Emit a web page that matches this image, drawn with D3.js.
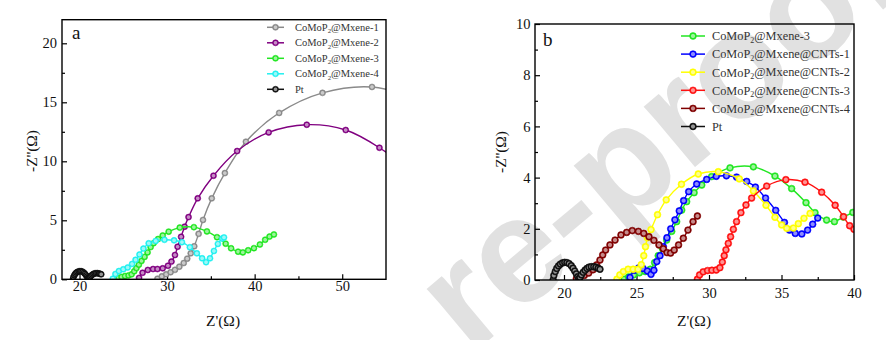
<!DOCTYPE html>
<html><head><meta charset="utf-8">
<script src="https://cdn.jsdelivr.net/npm/d3@7"></script>
<style>body{margin:0;background:#fff}svg{display:block}</style>
</head><body>
<svg id="c" width="886" height="340"></svg>
<script>
// ---------------- data ----------------
const ptData = [[19.25,0],[19.3,0.18],[19.4,0.33],[19.5,0.45],[19.62,0.55],[19.75,0.62],[19.9,0.67],[20.05,0.69],[20.2,0.68],[20.35,0.64],[20.5,0.56],[20.62,0.46],[20.74,0.35],[20.85,0.24],[20.95,0.13],[21.03,0.05],[21.1,0.1],[21.2,0.2],[21.32,0.3],[21.45,0.38],[21.58,0.45],[21.72,0.5],[21.88,0.52],[22.05,0.52],[22.2,0.5],[22.35,0.46],[22.48,0.42]];
const mxene1 = [[28.9,0.05],[29.4,0.25],[29.9,0.42],[30.4,0.6],[30.9,0.8],[31.4,1.07],[31.9,1.38],[32.3,1.75],[32.7,2.2],[33.1,2.8],[33.6,3.85],[34.1,5.03],[35.1,6.86],[36.6,9.0],[39.0,11.66],[42.8,14.1],[47.75,15.8],[53.4,16.3],[58.5,15.3]];
const mxene2 = [[26.8,0.12],[27.2,0.55],[27.8,0.79],[28.4,0.87],[28.9,0.87],[29.5,0.93],[30.1,1.15],[30.5,1.5],[30.9,2.06],[31.2,2.76],[31.6,3.6],[32.0,4.46],[32.45,5.27],[33.5,6.86],[35.3,8.78],[38.0,10.87],[41.6,12.45],[45.95,13.1],[50.4,12.65],[54.25,11.15],[57.5,9.3]];
const mxene3 = [[24.15,0.03],[24.45,0.12],[24.8,0.2],[25.2,0.28],[25.6,0.33],[25.95,0.42],[26.25,0.68],[26.5,0.95],[26.78,1.24],[27.08,1.56],[27.43,1.9],[27.77,2.28],[28.12,2.73],[28.46,3.06],[28.97,3.41],[29.5,3.71],[30.18,4.04],[31.45,4.38],[33.06,4.42],[34.55,4.06],[35.7,3.57],[36.69,3.02],[37.31,2.63],[38.11,2.34],[38.65,2.28],[39.26,2.46],[39.92,2.64],[40.6,2.95],[41.2,3.35],[41.7,3.62],[42.2,3.8]];
const mxene4 = [[23.8,0.05],[24.1,0.45],[24.5,0.7],[25.0,0.85],[25.5,1.0],[26.0,1.3],[26.4,1.65],[26.85,2.1],[27.3,2.6],[27.9,3.05],[28.7,3.25],[29.7,3.35],[30.8,3.3],[31.7,3.15],[32.6,2.72],[33.4,2.2],[34.0,1.78],[34.45,1.45],[34.9,1.78],[35.35,2.4],[35.8,3.0],[36.3,3.45],[36.5,3.55]];
const cnts1 = [[24.55,0.1],[24.85,0.38],[25.15,0.47],[25.45,0.45],[25.75,0.35],[26.0,0.22],[26.2,0.38],[26.4,0.72],[26.62,0.95],[26.85,1.3],[27.1,1.65],[27.36,2.0],[27.65,2.35],[27.95,2.7],[28.25,3.1],[28.6,3.45],[29.15,3.75],[29.84,3.93],[30.5,4.05],[31.2,4.07],[31.9,4.02],[32.6,3.85],[33.2,3.63],[33.9,3.2],[34.6,2.72],[35.2,2.25],[35.55,1.95],[35.95,1.82],[36.4,1.8],[36.8,1.95],[37.15,2.18],[37.5,2.42]];
const cnts2 = [[23.65,0.03],[23.85,0.2],[24.1,0.33],[24.42,0.42],[24.77,0.42],[25.1,0.42],[25.33,0.6],[25.5,0.95],[25.62,1.3],[25.75,1.65],[26.0,1.97],[26.45,2.55],[27.05,3.13],[28.1,3.74],[29.26,4.14],[30.64,4.23],[32.09,3.95],[33.06,3.48],[33.93,2.92],[34.55,2.45],[35.01,2.15],[35.36,2.02],[35.82,2.03],[36.16,2.2],[36.55,2.41],[36.97,2.6]];
const cnts3 = [[29.2,0.03],[29.35,0.2],[29.6,0.32],[29.9,0.37],[30.2,0.38],[30.5,0.39],[30.75,0.48],[30.92,0.7],[31.05,0.95],[31.17,1.18],[31.33,1.43],[31.49,1.69],[31.68,1.98],[31.9,2.28],[32.2,2.63],[32.55,2.93],[32.94,3.2],[33.98,3.67],[35.3,3.92],[36.62,3.82],[37.77,3.43],[38.7,2.92],[39.28,2.47],[39.7,2.12],[40.0,1.98],[40.4,1.7]];
const cnts4 = [[20.85,0.05],[21.1,0.1],[21.4,0.18],[21.7,0.27],[22.0,0.4],[22.25,0.59],[22.48,0.78],[22.67,0.98],[22.87,1.17],[23.17,1.37],[23.52,1.56],[23.93,1.76],[24.32,1.86],[24.71,1.93],[25.13,1.9],[25.5,1.82],[25.86,1.69],[26.2,1.55],[26.55,1.37],[26.85,1.22],[27.1,1.07],[27.35,1.05],[27.6,1.17],[27.9,1.37],[28.23,1.63],[28.55,1.95],[28.9,2.28],[29.2,2.5]];

const labelsA = ['CoMoP2@Mxene-1','CoMoP2@Mxene-2','CoMoP2@Mxene-3','CoMoP2@Mxene-4','Pt'];
const labelsB = ['CoMoP2@Mxene-3','CoMoP2@Mxene@CNTs-1','CoMoP2@Mxene@CNTs-2','CoMoP2@Mxene@CNTs-3','CoMoP2@Mxene@CNTs-4','Pt'];
const xTicksA = [20,30,40,50], xMinorA = [25,35,45];
const yTicksA = [0,5,10,15,20], yMinorA = [2.5,7.5,12.5,17.5];
const xTicksB = [20,25,30,35,40], xMinorB = [22.5,27.5,32.5,37.5];
const yTicksB = [0,2,4,6,8,10], yMinorB = [1,3,5,7,9];
const xTitle = "Z'(\u03A9)", yTitle = "-Z''(\u03A9)";
const watermark = 're-proof';

const C = {gray:'#8a8a8a', purple:'#800080', green:'#22e622', cyan:'#22f0f0', black:'#111111', blue:'#0000ff', yellow:'#ffff00', red:'#ff1010', wine:'#800000'};

const seriesA = [
  {d:mxene1, c:C.gray},{d:mxene2, c:C.purple},{d:mxene3, c:C.green},{d:mxene4, c:C.cyan},{d:ptData, c:C.black}];
const seriesB = [
  {d:mxene3, c:C.green},{d:cnts1, c:C.blue},{d:cnts2, c:C.yellow},{d:cnts3, c:C.red},{d:cnts4, c:C.wine},{d:ptData, c:C.black}];

// ---------------- drawing ----------------
const svg = d3.select('#c');
const defs = svg.append('defs');
const FONT = "'Liberation Serif','Times New Roman',serif";

// watermark (behind the charts)
svg.append('text').attr('x',0).attr('y',0)
  .attr('transform','translate(470,356) rotate(-40)')
  .attr('font-family',"'Liberation Sans',Arial,sans-serif")
  .attr('font-weight','bold').attr('font-size',150)
  .attr('fill','#e1e1e1').text(watermark);

const gradId = {};
Object.entries(C).forEach(([k,col])=>{
  const g = defs.append('radialGradient').attr('id','rg'+k).attr('cx','50%').attr('cy','50%').attr('r','50%');
  const light = d3.interpolateRgb(col,'#ffffff')(0.55);
  g.append('stop').attr('offset','0%').attr('stop-color',light);
  g.append('stop').attr('offset','45%').attr('stop-color',light);
  g.append('stop').attr('offset','75%').attr('stop-color',col);
  g.append('stop').attr('offset','100%').attr('stop-color',col);
  gradId[col] = 'rg'+k;
});

function panel(opt){
  const {x,y,series,labels,xt,xm,yt,ym,xpad,ypad,r,letter,lx,ly,legend,clip} = opt;
  const [x0,x1] = x.range(), [y0,y1] = y.range();
  const g = svg.append('g');
  defs.append('clipPath').attr('id',clip).append('rect')
    .attr('x',x0).attr('y',y1).attr('width',x1-x0).attr('height',y0-y1);

  g.append('g').attr('transform',`translate(0,${y0})`)
    .call(d3.axisBottom(x).tickValues(xt).tickSize(-5).tickPadding(xpad).tickFormat(d3.format('d')));
  g.append('g').attr('transform',`translate(0,${y0})`)
    .call(d3.axisBottom(x).tickValues(xm).tickSize(-3).tickFormat(''));
  g.append('g').attr('transform',`translate(${x0},0)`)
    .call(d3.axisLeft(y).tickValues(yt).tickSize(-5).tickPadding(ypad).tickFormat(d3.format('d')));
  g.append('g').attr('transform',`translate(${x0},0)`)
    .call(d3.axisLeft(y).tickValues(ym).tickSize(-3).tickFormat(''));
  g.selectAll('.domain').remove();
  g.selectAll('.tick line').attr('stroke','#000').attr('stroke-width',1.2);
  g.selectAll('.tick text').attr('font-family',FONT).attr('font-size',14.5).attr('fill','#111');

  const dg = g.append('g').attr('clip-path',`url(#${clip})`);
  const line = d3.line().x(d=>x(d[0])).y(d=>y(d[1])).curve(d3.curveCatmullRom.alpha(0.5));
  series.forEach(s=>{
    dg.append('path').datum(s.d).attr('d',line).attr('fill','none')
      .attr('stroke',s.c).attr('stroke-width',1.4);
    dg.selectAll(null).data(s.d).enter().append('circle')
      .attr('cx',d=>x(d[0])).attr('cy',d=>y(d[1])).attr('r',r)
      .attr('fill',`url(#${gradId[s.c]})`).attr('stroke',s.c).attr('stroke-width',0.6);
  });

  g.append('rect').attr('x',x0).attr('y',y1).attr('width',x1-x0).attr('height',y0-y1)
    .attr('fill','none').attr('stroke','#000').attr('stroke-width',1.4);

  g.append('text').attr('x',opt.xtx).attr('y',opt.xty).attr('text-anchor','middle')
    .attr('font-family',FONT).attr('font-size',15.5).attr('fill','#111').text(xTitle);
  g.append('text').attr('transform',`translate(${opt.ytx},${opt.yty}) rotate(-90)`).attr('text-anchor','middle')
    .attr('font-family',FONT).attr('font-size',15.5).attr('fill','#111').text(yTitle);
  g.append('text').attr('x',lx).attr('y',ly).attr('font-family',FONT).attr('font-size',19).attr('fill','#111').text(letter);

  const L = legend;
  labels.forEach((lab,i)=>{
    const yy = L.y0 + i*L.dy, col = series[i].c;
    g.append('line').attr('x1',L.lx1).attr('x2',L.lx2).attr('y1',yy).attr('y2',yy)
      .attr('stroke',col).attr('stroke-width',1.5);
    g.append('circle').attr('cx',(L.lx1+L.lx2)/2).attr('cy',yy).attr('r',r)
      .attr('fill',`url(#${gradId[col]})`).attr('stroke',col).attr('stroke-width',0.6);
    const t = g.append('text').attr('x',L.tx).attr('y',yy).attr('dy','0.35em')
      .attr('font-family',FONT).attr('font-size',L.fs).attr('fill','#333');
    if(lab.startsWith('CoMoP2')){
      t.append('tspan').text('CoMoP');
      t.append('tspan').attr('font-size',L.fs*0.65).attr('dy','0.3em').text('2');
      t.append('tspan').attr('dy','-0.2em').text(lab.slice(6));
    } else t.text(lab);
  });
}

panel({
  x:d3.scaleLinear().domain([18,55]).range([62,386]),
  y:d3.scaleLinear().domain([0,22]).range([279.3,19.7]),
  series:seriesA, labels:labelsA, xt:xTicksA, xm:xMinorA, yt:yTicksA, ym:yMinorA,
  xpad:1, ypad:5, r:3, letter:'a', lx:72, ly:39, clip:'ca',
  xtx:223, xty:326, ytx:37, yty:151,
  legend:{y0:27.3, dy:15.5, lx1:267, lx2:284, tx:295, fs:10.5}
});
panel({
  x:d3.scaleLinear().domain([18,40]).range([535,854]),
  y:d3.scaleLinear().domain([0,10]).range([280,24]),
  series:seriesB, labels:labelsB, xt:xTicksB, xm:xMinorB, yt:yTicksB, ym:yMinorB,
  xpad:8, ypad:4.5, r:3.4, letter:'b', lx:543, ly:46, clip:'cb',
  xtx:694, xty:326, ytx:506, yty:152,
  legend:{y0:36, dy:18.1, lx1:681, lx2:705, tx:712, fs:12.3}
});
</script></body></html>
